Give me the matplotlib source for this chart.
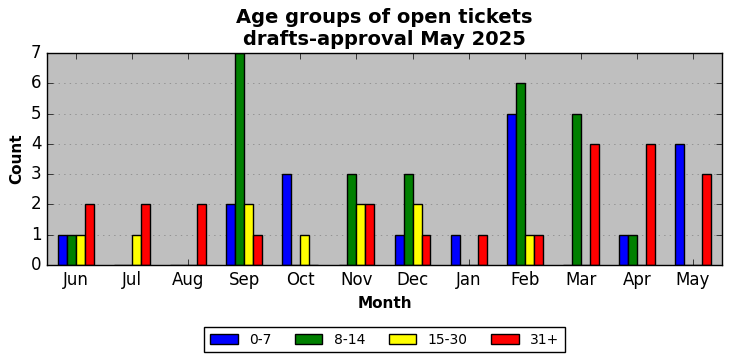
import matplotlib
matplotlib.use("Agg")
import matplotlib.pyplot as plt
import numpy as np

plt.style.use('classic')

months = ["Jun", "Jul", "Aug", "Sep", "Oct", "Nov", "Dec", "Jan", "Feb", "Mar", "Apr", "May"]
g0_7 = [1, 0, 0, 2, 3, 0, 1, 1, 5, 0, 1, 4]
g8_14 = [1, 0, 0, 7, 0, 3, 3, 0, 6, 5, 1, 0]
g15_30 = [1, 1, 0, 2, 1, 2, 2, 0, 1, 0, 0, 0]
g31 = [2, 2, 2, 1, 0, 2, 1, 1, 1, 4, 4, 3]

series = [("0-7", g0_7, "blue"), ("8-14", g8_14, "green"),
          ("15-30", g15_30, "yellow"), ("31+", g31, "red")]

fig = plt.figure(figsize=(7.32, 3.61), dpi=100, facecolor='white')
ax = fig.add_axes([47/732, 1-265/361, (722-47)/732, (265-53)/361])
ax.set_facecolor('#bfbfbf')

x = np.arange(len(months))
w = 0.16
for i, (lab, vals, col) in enumerate(series):
    ax.bar(x + (i - 1.5) * w, vals, w, label=lab, color=col, edgecolor='black', linewidth=1, align='center')

ax.set_xlim(-0.52, len(months) - 0.48)
ax.set_ylim(0, 7)
ax.set_xticks(x)
ax.set_xticklabels(months, fontsize=12)
ax.tick_params(axis='y', labelsize=12)
ax.yaxis.grid(True, linestyle=':', color='gray')
ax.set_axisbelow(True)
ax.set_xlabel("Month", fontsize=11, fontweight='bold')
ax.set_ylabel("Count", fontsize=11, fontweight='bold')
ax.set_title("Age groups of open tickets\ndrafts-approval May 2025", fontsize=14, fontweight='bold', y=1.005)
ax.legend(loc='upper center', bbox_to_anchor=(0.5, -0.26), ncol=4, fontsize=10, frameon=True,
          columnspacing=1.7)

fig.savefig("out.png", dpi=100, facecolor='white')
